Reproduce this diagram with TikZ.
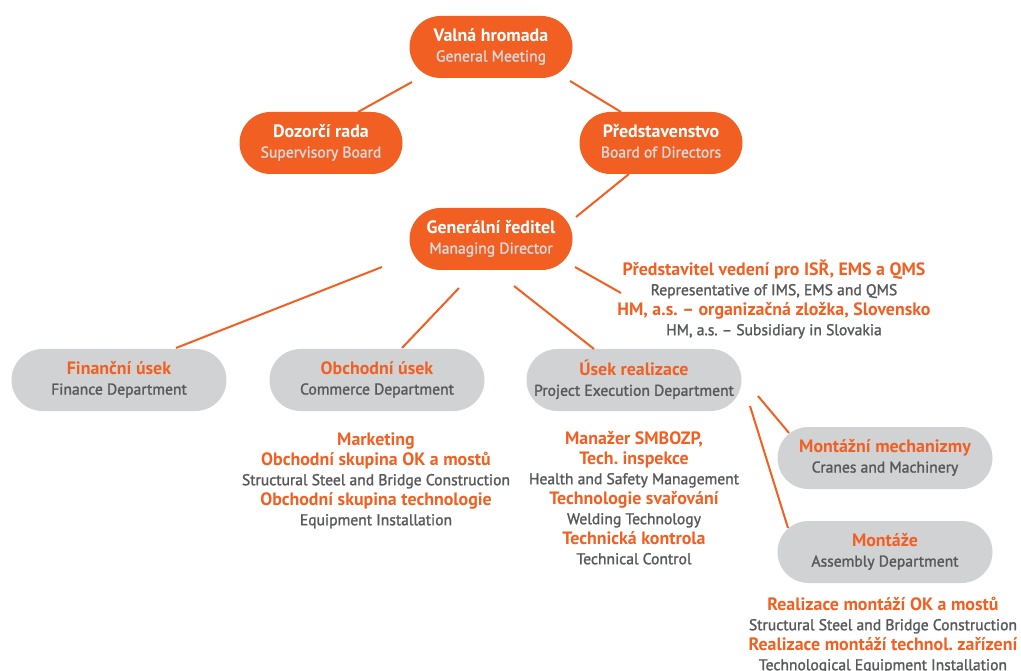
\documentclass[tikz,border=0pt]{standalone}
\usepackage{fontspec}
\setmainfont{PT Sans}
\newfontfamily\medfont{PT Sans}[FakeBold=1.6]
\usetikzlibrary{calc}
\definecolor{orng}{RGB}{241,96,34}
\definecolor{boxgray}{RGB}{209,210,212}
\definecolor{txtgray}{RGB}{88,89,91}
\definecolor{lightsub}{RGB}{214,215,217}
\newcommand\tstr{\rule{0pt}{13pt}}
\newcommand\bstr{\rule[-4pt]{0pt}{4pt}}
\newcommand\hstr{\rule{0pt}{16pt}}
\newcommand\hdw[1]{{\color{white}\bfseries #1}}
\newcommand\sbw[1]{{\medfont\fontsize{15.6}{20}\selectfont\color{lightsub}#1}}
\newcommand\hdo[1]{{\color{orng}\bfseries #1}}
\newcommand\sbg[1]{{\medfont\fontsize{15.6}{20}\selectfont\color{txtgray}#1}}
\frenchspacing
\tikzset{
  obox/.style={rounded corners=31pt, fill=orng, minimum width=163pt, minimum height=62pt, inner sep=0pt, align=center},
  gbox/.style={rounded corners=31pt, fill=boxgray, minimum width=215pt, minimum height=62pt, inner sep=0pt, align=center},
  blk/.style={inner sep=0pt, align=center, anchor=north},
  conn/.style={draw=orng, line width=2pt},
}
\begin{document}
\begin{tikzpicture}[x=1pt,y=1pt,font=\frenchspacing\fontsize{17.9}{20}\selectfont]
\useasboundingbox (0,0) rectangle (1021,-671);
% top level
\node[obox] (vh) at (491,-47) {\tstr\hdw{Valná hromada}\\\sbw{General Meeting}\bstr};
\node[obox] (dr) at (321,-143) {\tstr\hdw{Dozorčí rada}\\\sbw{Supervisory Board}\bstr};
\node[obox] (pr) at (661,-143) {\tstr\hdw{Představenstvo}\\\sbw{Board of Directors}\bstr};
\node[obox] (gr) at (491,-239) {\tstr\hdw{Generální ředitel}\\\sbw{Managing Director}\bstr};
% departments
\node[gbox] (fin) at (119,-380) {\tstr\hdo{Finanční úsek}\\\sbg{Finance Department}\bstr};
\node[gbox] (obch) at (377,-380) {\tstr\hdo{Obchodní úsek}\\\sbg{Commerce Department}\bstr};
\node[gbox] (real) at (634,-380) {\tstr\hdo{Úsek realizace}\\\sbg{Project Execution Department}\bstr};
\node[gbox] (mm) at (885,-458) {\tstr\hdo{Montážní mechanizmy}\\\sbg{Cranes and Machinery}\bstr};
\node[gbox] (mont) at (885,-552) {\tstr\hdo{Montáže}\\\sbg{Assembly Department}\bstr};
% text blocks
\node[blk] (rep) at (774,-259) {\hstr\hdo{Představitel vedení pro ISŘ, EMS a QMS}\\
  \sbg{Representative of IMS, EMS and QMS}\\
  \hdo{HM, a.s. – organizačná zložka, Slovensko}\\
  \sbg{HM, a.s. – Subsidiary in Slovakia}};
\node[blk] (comtxt) at (376,-429) {\hstr\hdo{Marketing}\\
  \hdo{Obchodní skupina OK a mostů}\\
  \sbg{Structural Steel and Bridge Construction}\\
  \hdo{Obchodní skupina technologie}\\
  \sbg{Equipment Installation}};
\node[blk] (realtxt) at (634,-428) {\hstr\hdo{Manažer SMBOZP,}\\
  \hdo{Tech. inspekce}\\
  \sbg{Health and Safety Management}\\
  \hdo{Technologie svařování}\\
  \sbg{Welding Technology}\\
  \hdo{Technická kontrola}\\
  \sbg{Technical Control}};
\node[blk] (monttxt) at (883,-594) {\hstr\hdo{Realizace montáží OK a mostů}\\
  \sbg{Structural Steel and Bridge Construction}\\
  \hdo{Realizace montáží technol. zařízení}\\
  \sbg{Technological Equipment Installation}};
% connectors
\draw[conn] ($(vh.center)+(-79,-35)$) -- ($(dr.center)+(37,31)$);
\draw[conn] ($(vh.center)+(79,-34)$) -- ($(pr.center)+(-40,31)$);
\draw[conn] ($(pr.center)+(-32,-31)$) -- ($(gr.center)+(85,22)$);
\draw[conn] ($(gr.center)+(-109,-28)$) -- ($(fin.center)+(57,32)$);
\draw[conn] ($(gr.center)+(-32,-49)$) -- ($(obch.center)+(25,32)$);
\draw[conn] ($(gr.center)+(23,-47)$) -- ($(real.center)+(-40,31)$);
\draw[conn] ($(gr.center)+(84,-28)$) -- ($(rep.north)+(-153,-34)$);
\draw[conn] ($(real.center)+(124,-16)$) -- ($(mm.center)+(-96,25)$);
\draw[conn] ($(real.center)+(116,-26)$) -- ($(mont.center)+(-97,24)$);
\end{tikzpicture}
\end{document}
